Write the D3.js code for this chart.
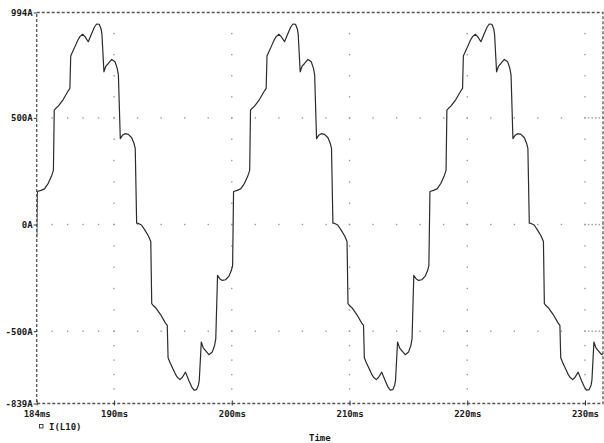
<!DOCTYPE html>
<html>
<head>
<meta charset="utf-8">
<script src="https://cdn.jsdelivr.net/npm/d3@7"></script>
<style>
  body { margin: 0; background: #fff; }
  svg { display: block; }
  .tick text, .lbl { font-family: "DejaVu Sans Mono", monospace; font-weight: bold; font-size: 9px; fill: #1a1a1a; }
</style>
</head>
<body>
<div id="chart"></div>
<script>
// Axis ends and labelled ticks
const tStart = 183.43, tEnd = 231.53;
const iMin = -839, iMax = 994;
const xTicks = [183.43, 190, 200, 210, 220, 230];
const xTickLabels = ["184ms", "190ms", "200ms", "210ms", "220ms", "230ms"];
const yTicks = [-839, -500, 0, 500, 994];
const yTickLabels = ["-839A", "-500A", "0A", "500A", "994A"];
const xGrid = [190, 200, 210, 220, 230];
const yGrid = [-500, 0, 500];
const seriesName = "I(L10)";

// I(L10) trace, time in ms
const timeMs = [
  183.43, 183.48, 183.79, 184.09, 184.41, 184.68, 184.85, 184.92, 185.06, 185.26,
  185.68, 186.11, 186.25, 186.32, 186.51, 186.68, 186.93, 187.10, 187.33, 187.53,
  187.81, 188.10, 188.34, 188.52, 188.74, 188.90, 188.97, 189.14, 189.31, 189.51,
  189.80, 190.08, 190.27, 190.37, 190.53, 190.71, 190.93, 191.21, 191.50, 191.69,
  191.80, 191.92, 192.07, 192.33, 192.62, 192.92, 193.12, 193.20, 193.35, 193.53,
  193.95, 194.37, 194.52, 194.59, 194.77, 194.94, 195.20, 195.37, 195.60, 195.79,
  196.07, 196.36, 196.60, 196.79, 197.01, 197.17, 197.24, 197.41, 197.58, 197.77,
  198.06, 198.34, 198.54, 198.64, 198.79, 198.98, 199.19, 199.47, 199.76, 199.96,
  200.07,
  200.15, 200.46, 200.76, 201.08, 201.35, 201.52, 201.59, 201.73, 201.93,
  202.35, 202.78, 202.92, 202.99, 203.18, 203.35, 203.60, 203.77, 204.00, 204.20,
  204.48, 204.77, 205.01, 205.19, 205.41, 205.57, 205.64, 205.81, 205.98, 206.18,
  206.47, 206.75, 206.94, 207.04, 207.20, 207.38, 207.60, 207.88, 208.17, 208.36,
  208.47, 208.59, 208.74, 209.00, 209.29, 209.59, 209.79, 209.87, 210.02, 210.20,
  210.62, 211.04, 211.19, 211.26, 211.44, 211.61, 211.87, 212.04, 212.27, 212.46,
  212.74, 213.03, 213.27, 213.46, 213.68, 213.84, 213.91, 214.08, 214.25, 214.44,
  214.73, 215.01, 215.21, 215.31, 215.46, 215.65, 215.86, 216.14, 216.43, 216.63,
  216.74,
  216.83, 217.14, 217.44, 217.76, 218.03, 218.20, 218.27, 218.41, 218.61,
  219.03, 219.46, 219.60, 219.67, 219.86, 220.03, 220.28, 220.45, 220.68, 220.88,
  221.16, 221.45, 221.69, 221.87, 222.09, 222.25, 222.32, 222.49, 222.66, 222.86,
  223.15, 223.43, 223.62, 223.72, 223.88, 224.06, 224.28, 224.56, 224.85, 225.04,
  225.15, 225.27, 225.42, 225.68, 225.97, 226.27, 226.47, 226.55, 226.70, 226.88,
  227.30, 227.72, 227.87, 227.94, 228.12, 228.29, 228.55, 228.72, 228.95, 229.14,
  229.42, 229.71, 229.95, 230.14, 230.36, 230.52, 230.59, 230.76, 230.93, 231.12,
  231.41, 231.69
];
// current in A
const currentA = [
  -61, 155, 160, 167, 193, 226, 254, 536, 545, 555,
  586, 627, 638, 790, 813, 834, 865, 881, 892, 881,
  857, 896, 926, 940, 939, 917, 893, 716, 743, 755,
  774, 763, 732, 700, 403, 418, 426, 423, 407, 381,
  357, 6, 5, -2, -26, -54, -80, -371, -381, -390,
  -422, -462, -473, -625, -649, -669, -700, -716, -727, -717,
  -692, -732, -762, -776, -774, -752, -729, -551, -578, -591,
  -610, -598, -567, -536, -238, -254, -262, -259, -242, -216,
  -193,
  155, 160, 167, 193, 226, 254, 536, 545, 555,
  586, 627, 638, 790, 813, 834, 865, 881, 892, 881,
  857, 896, 926, 940, 939, 917, 893, 716, 743, 755,
  774, 763, 732, 700, 403, 418, 426, 423, 407, 381,
  357, 6, 5, -2, -26, -54, -80, -371, -381, -390,
  -422, -462, -473, -625, -649, -669, -700, -716, -727, -717,
  -692, -732, -762, -776, -774, -752, -729, -551, -578, -591,
  -610, -598, -567, -536, -238, -254, -262, -259, -242, -216,
  -193,
  155, 160, 167, 193, 226, 254, 536, 545, 555,
  586, 627, 638, 790, 813, 834, 865, 881, 892, 881,
  857, 896, 926, 940, 939, 917, 893, 716, 743, 755,
  774, 763, 732, 700, 403, 418, 426, 423, 407, 381,
  357, 6, 5, -2, -26, -54, -80, -371, -381, -390,
  -422, -462, -473, -625, -649, -669, -700, -716, -727, -717,
  -692, -732, -762, -776, -774, -752, -729, -551, -578, -591,
  -610, -598
];

const W = 604, H = 443;
const plot = {left: 36.7, right: 603, top: 12.5, bottom: 403.5};

const svg = d3.select("#chart")
    .append("svg")
    .attr("width", W)
    .attr("height", H);

svg.append("rect").attr("width", W).attr("height", H).attr("fill", "#fff");

const x = d3.scaleLinear().domain([tStart, tEnd]).range([plot.left, plot.right]);
const y = d3.scaleLinear().domain([iMin, iMax]).range([plot.bottom, plot.top]);

// minor grid positions: each major interval split in 5
function splitFive(bounds) {
    const out = [];
    for (let k = 0; k < bounds.length - 1; k++) {
        for (let j = 0; j < 5; j++) out.push(bounds[k] + (bounds[k + 1] - bounds[k]) * j / 5);
    }
    out.push(bounds[bounds.length - 1]);
    return out;
}
const xMinor = splitFive([tStart].concat(xGrid, [tEnd]));
const yMinor = splitFive([iMin].concat(yGrid, [iMax]));

const dots = [];
xGrid.forEach(t => yMinor.forEach(v => dots.push([t, v])));
yGrid.forEach(v => xMinor.forEach(t => dots.push([t, v])));

svg.append("g")
    .selectAll("rect")
    .data(dots)
    .join("rect")
    .attr("x", d => x(d[0]) - 0.7)
    .attr("y", d => y(d[1]) - 0.7)
    .attr("width", 1.4)
    .attr("height", 1.4)
    .attr("fill", "#9a9a9a");

// trace
const pts = timeMs.map((t, i) => [t, currentA[i]]);
svg.append("clipPath").attr("id", "clip")
    .append("rect")
    .attr("x", plot.left).attr("y", plot.top)
    .attr("width", plot.right - plot.left).attr("height", plot.bottom - plot.top);

svg.append("path")
    .datum(pts)
    .attr("clip-path", "url(#clip)")
    .attr("fill", "none")
    .attr("stroke", "#2b2b2b")
    .attr("stroke-width", 1.2)
    .attr("stroke-linejoin", "round")
    .attr("d", d3.line().x(d => x(d[0])).y(d => y(d[1])));

// dashed frame
svg.append("rect")
    .attr("x", plot.left).attr("y", plot.top)
    .attr("width", plot.right - plot.left).attr("height", plot.bottom - plot.top)
    .attr("fill", "none")
    .attr("stroke", "#555")
    .attr("stroke-width", 1.3)
    .attr("stroke-dasharray", "3,2");

// axes
const yAxis = svg.append("g")
    .attr("transform", `translate(${plot.left},0)`)
    .call(d3.axisLeft(y).tickValues(yTicks)
        .tickFormat((d, i) => yTickLabels[i]).tickSize(3).tickPadding(1));
yAxis.select(".domain").remove();
yAxis.selectAll(".tick line").attr("stroke", "#333");

const xAxis = svg.append("g")
    .attr("transform", `translate(0,${plot.bottom})`)
    .call(d3.axisBottom(x).tickValues(xTicks)
        .tickFormat((d, i) => xTickLabels[i]).tickSize(2).tickPadding(5));
xAxis.select(".domain").remove();
xAxis.selectAll(".tick line").attr("stroke", "#333").attr("y1", -3);

svg.selectAll(".tick text").attr("font-family", null).attr("font-size", null);

// legend
svg.append("rect")
    .attr("x", 39.5).attr("y", 424.5).attr("width", 3.5).attr("height", 3.5)
    .attr("fill", "none").attr("stroke", "#333").attr("stroke-width", 0.9);
svg.append("text")
    .attr("class", "lbl")
    .attr("x", 49).attr("y", 429.5)
    .text(seriesName);

// x title
svg.append("text")
    .attr("class", "lbl")
    .attr("x", (plot.left + plot.right) / 2)
    .attr("y", 441)
    .attr("text-anchor", "middle")
    .text("Time");
</script>
</body>
</html>
